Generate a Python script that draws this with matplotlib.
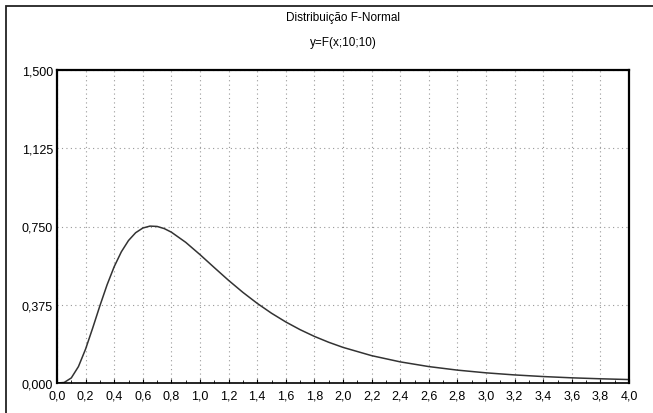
import matplotlib.pyplot as plt
import matplotlib.patches as patches
import matplotlib.ticker as ticker
import numpy as np

plt.rcParams['font.family'] = ['Liberation Sans', 'DejaVu Sans']

# values
x_vals = [0.0, 0.05, 0.1, 0.15, 0.2, 0.25, 0.3, 0.35, 0.4, 0.45, 0.5, 0.55, 0.6,
          0.65, 0.7, 0.75, 0.8, 0.9, 1.0, 1.1, 1.2, 1.3, 1.4, 1.5, 1.6, 1.7, 1.8,
          1.9, 2.0, 2.2, 2.4, 2.6, 2.8, 3.0, 3.2, 3.4, 3.6, 3.8, 4.0]
y_vals = [0.0, 0.0024, 0.0243, 0.0788, 0.1628, 0.2642, 0.3702, 0.4702, 0.5576,
          0.6288, 0.6828, 0.7202, 0.7426, 0.7519, 0.7503, 0.740, 0.7227, 0.6742,
          0.6152, 0.5530, 0.4917, 0.4343, 0.3817, 0.3344, 0.2925, 0.2556, 0.2233,
          0.1952, 0.1707, 0.1311, 0.1013, 0.0787, 0.0617, 0.0487, 0.0387, 0.0309,
          0.0248, 0.0202, 0.0165]

x_ticks = np.arange(0, 4.01, 0.2)
y_ticks = [0.0, 0.375, 0.75, 1.125, 1.5]

fig = plt.figure(figsize=(6.53, 4.14), dpi=100)
ax = fig.add_axes([57/653, 1-384/414, 572/653, 313/414])

ax.plot(x_vals, y_vals, color='#333333', lw=1.1)

ax.set_xlim(0, 4)
ax.set_ylim(0, 1.5)
ax.set_xticks(x_ticks)
ax.set_yticks(y_ticks)
ax.set_xticklabels([('%.1f' % v).replace('.', ',') for v in x_ticks], fontsize=9)
ax.set_yticklabels([('%.3f' % v).replace('.', ',') for v in y_ticks], fontsize=9)
ax.xaxis.set_minor_locator(ticker.MultipleLocator(0.1))
ax.tick_params(axis='both', which='major', length=3, direction='in', pad=5)
ax.tick_params(axis='y', length=0, pad=3)
ax.tick_params(axis='x', which='minor', length=2, direction='in')
ax.grid(True, which='major', linestyle=(0, (1, 3)), color='#999999', lw=0.8)

for s in ax.spines.values():
    s.set_linewidth(1.6)
ax.spines['bottom'].set_linewidth(1.2)

fig.text(343/653, 1-18/414, 'Distribuição F-Normal', ha='center', va='center', fontsize=8.5)
fig.text(343/653, 1-43/414, 'y=F(x;10;10)', ha='center', va='center', fontsize=8.5)

fig.patches.append(patches.Rectangle((6/653, -0.1), 1.2, 1-7/414+0.1,
                                     transform=fig.transFigure, fill=False,
                                     edgecolor='#222222', lw=1.3))

fig.savefig('out.png', dpi=100)
